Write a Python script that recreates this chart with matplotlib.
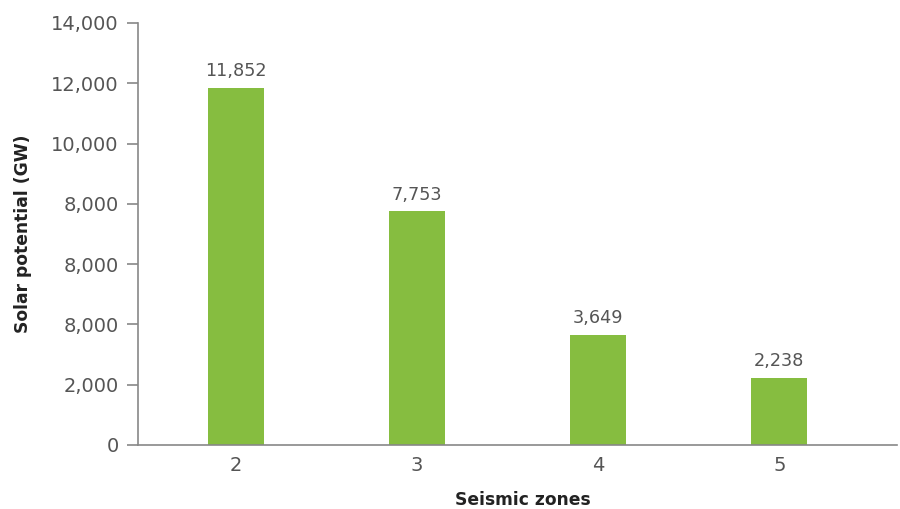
import matplotlib
matplotlib.use("Agg")
import matplotlib.pyplot as plt

categories = ["2", "3", "4", "5"]
values = [11852, 7753, 3649, 2238]
ytick_values = [0, 2000, 4000, 6000, 8000, 10000, 12000, 14000]
ytick_labels = ["0", "2,000", "8,000", "8,000", "8,000", "10,000", "12,000", "14,000"]

plt.rcParams['font.family'] = ['DejaVu Sans']

fig = plt.figure(figsize=(9, 5.09), dpi=100)
ax = fig.add_axes([138/900, 64/509, (897-138)/900, (445-23)/509])

x = list(range(len(categories)))
bars = ax.bar(x, values, width=0.31, color="#86bd40")
for xi, v in zip(x, values):
    ax.text(xi, v + 250, f"{v:,}", ha="center", va="bottom", fontsize=12.7, color="#555555")

ax.set_xlim(-0.54, 3.65)
ax.set_ylim(0, 14000)
ax.set_yticks(ytick_values)
ax.set_yticklabels(ytick_labels)
ax.set_xticks(x)
ax.set_xticklabels(categories)

for s in ["top", "right"]:
    ax.spines[s].set_visible(False)
for s in ["left", "bottom"]:
    ax.spines[s].set_color("#888888")
    ax.spines[s].set_linewidth(1.2)

ax.tick_params(axis="y", length=8, width=1.2, color="#888888", labelsize=14, labelcolor="#555555", pad=6)
ax.tick_params(axis="x", length=0, labelsize=14, labelcolor="#555555", pad=8)

ax.set_ylabel("Solar potential (GW)", fontsize=12.3, fontweight="bold", color="#222222")
ax.yaxis.set_label_coords(-0.139, 0.5)
ax.set_xlabel("Seismic zones", fontsize=12.3, fontweight="bold", color="#222222", va="center")
ax.xaxis.set_label_coords(0.507, -0.130)

fig.savefig("out.png", dpi=100)
